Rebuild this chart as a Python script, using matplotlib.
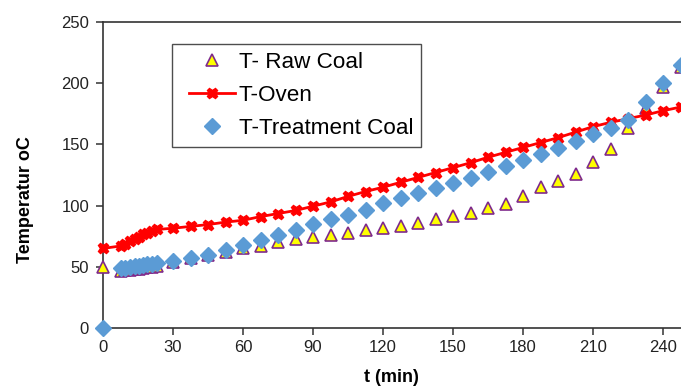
# Temperature of raw coal, oven and treated coal over time

import matplotlib
matplotlib.use('Agg')
import matplotlib.pyplot as plt
from matplotlib.lines import Line2D
from matplotlib.legend_handler import HandlerLine2D

plt.rcParams['font.family'] = ['Liberation Sans', 'DejaVu Sans']

## data

t_min = [0, 7.5, 9.5, 11.5, 13.5, 15.5, 17, 19, 21, 23,
         30, 37.5, 45, 52.5, 60, 67.5, 75, 82.5, 90, 97.5,
         105, 112.5, 120, 127.5, 135, 142.5, 150, 157.5, 165, 172.5,
         180, 187.5, 195, 202.5, 210, 217.5, 225, 232.5, 240, 247.5]

raw_coal = [49.5, 46.5, 47, 47.5, 48, 48.5, 49, 49.5, 50, 51,
            54, 57, 60, 62.5, 65, 67, 70, 72.5, 74, 76,
            77.5, 80, 81.5, 83.5, 85.5, 89, 91.5, 94, 98, 101,
            108, 115, 120, 126, 136, 146, 163, 180, 197, 213]

oven = [65, 67, 69, 71, 72.5, 74.5, 76.5, 78, 79.5, 80.5,
        81.5, 83, 84.5, 86.5, 88, 91, 93.5, 96, 99.5, 103,
        107.5, 111.5, 115, 119, 123, 127, 131, 135, 139.5, 143.5,
        147.5, 151.5, 155.5, 160, 164.5, 168, 171, 174, 177.5, 180.5]

treated = [0, 49, 49, 50, 50.5, 51, 51.5, 52, 52.5, 53.5,
           55, 57.5, 60, 63.5, 67.5, 72, 76, 80, 85, 89,
           92.5, 96.5, 102, 106.5, 110, 114, 118.5, 122.5, 127.5, 132,
           137.5, 142.5, 147, 153, 158.5, 163.5, 170, 185, 200, 215]

x_ticks = [0, 30, 60, 90, 120, 150, 180, 210, 240]
y_ticks = [0, 50, 100, 150, 200, 250]

## figure

W, H = 681, 387
fig = plt.figure(figsize=(W / 100, H / 100), dpi=100)
ax = fig.add_axes([103 / W, 59 / H, (W - 103) / W, 306 / H])

ax.plot(t_min, raw_coal, linestyle='none', marker='^', ms=8,
        mfc='#FFFF00', mec='#7F2A8C', mew=1.2, label='T- Raw Coal',
        zorder=3, clip_on=False)
ax.plot(t_min, oven, color='#FF0000', lw=2, marker='X', ms=7.5,
        mfc='#FF0000', mec='#FF0000', label='T-Oven', zorder=4,
        clip_on=False)
ax.plot(t_min, treated, linestyle='none', marker='D', ms=8.5,
        mfc='#5B9BD5', mec='#5B9BD5', label='T-Treatment Coal',
        zorder=5, clip_on=False)

ax.set_xlim(0, 247.7)
ax.set_ylim(0, 250)
ax.set_xticks(x_ticks)
ax.set_yticks(y_ticks)

for side in ['left', 'bottom', 'top']:
    ax.spines[side].set_color('#333333')
    ax.spines[side].set_linewidth(1.2)
ax.spines['right'].set_visible(False)

ax.tick_params(axis='both', direction='out', length=5, width=1.1,
               color='#333333', labelsize=12, labelcolor='#222222')
ax.tick_params(axis='x', pad=4)
ax.tick_params(axis='y', pad=5)

fig.text(25 / W, 1 - 200 / H, 'Temperatur oC', rotation=90, fontsize=13,
         fontweight='bold', ha='center', va='center')
fig.text(391 / W, 1 - 377 / H, 't (min)', fontsize=13, fontweight='bold',
         ha='center', va='center')

# xpad pushes the legend handles in from the frame edge
leg = ax.legend(loc='upper left', bbox_to_anchor=(0.119, 0.928),
                borderaxespad=0, fontsize=16.2, frameon=True, fancybox=False,
                handlelength=2.45, handletextpad=0.18, labelspacing=0.54,
                borderpad=0.34,
                handler_map={Line2D: HandlerLine2D(xpad=0.41)})
leg.get_frame().set_edgecolor('#222222')
leg.get_frame().set_linewidth(1.0)

fig.savefig('out.png', dpi=100)
